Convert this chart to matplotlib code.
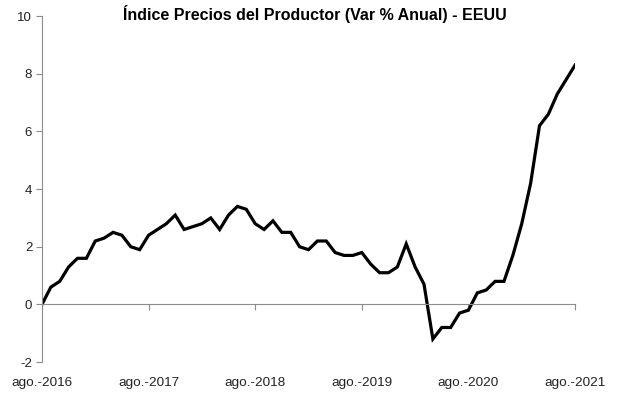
#!/usr/bin/env python3
import numpy as np
import matplotlib.pyplot as plt

plt.rcParams["font.family"] = ["Liberation Sans", "DejaVu Sans"]
plt.rcParams["axes.unicode_minus"] = False

# PPI annual % change, monthly from ago-2016 to ago-2021
ppi = [
    0.0, 0.6, 0.8, 1.3, 1.6, 1.6, 2.2, 2.3, 2.5, 2.4, 2.0, 1.9,
    2.4, 2.6, 2.8, 3.1, 2.6, 2.7, 2.8, 3.0, 2.6, 3.1, 3.4, 3.3,
    2.8, 2.6, 2.9, 2.5, 2.5, 2.0, 1.9, 2.2, 2.2, 1.8, 1.7, 1.7,
    1.8, 1.4, 1.1, 1.1, 1.3, 2.1, 1.3, 0.7, -1.2, -0.8, -0.8, -0.3,
    -0.2, 0.4, 0.5, 0.8, 0.8, 1.7, 2.8, 4.2, 6.2, 6.6, 7.3, 7.8,
    8.3,
]
year_labels = ["ago.-2016", "ago.-2017", "ago.-2018", "ago.-2019", "ago.-2020", "ago.-2021"]
y_ticks = [-2, 0, 2, 4, 6, 8, 10]

grey = "#8c8c8c"

fig = plt.figure(figsize=(6.17, 3.94), dpi=100)
ax = fig.add_axes([0.068, 0.081, 0.864, 0.878])

months = np.arange(len(ppi))
ax.plot(months, ppi, color="black", linewidth=2.3, solid_joinstyle="miter")

ax.set_xlim(0, len(ppi) - 1)
ax.set_ylim(-2, 10)
ax.set_yticks(y_ticks)

# horizontal axis crosses at zero, labels sit at the bottom
year_pos = months[::12]
ax.spines["bottom"].set_position(("data", 0))
ax.spines["bottom"].set_color(grey)
ax.spines["left"].set_color(grey)
ax.spines["top"].set_visible(False)
ax.spines["right"].set_visible(False)
ax.set_xticks(year_pos)
ax.tick_params(axis="x", direction="out", length=4, color=grey, labelbottom=False)
ax.tick_params(axis="y", direction="out", length=4, color=grey, labelsize=9.5,
               labelcolor="#222222", pad=3)

sec = ax.secondary_xaxis("bottom")
sec.set_xticks(year_pos)
sec.set_xticklabels(year_labels)
sec.tick_params(length=0, labelsize=9.7, labelcolor="#222222", pad=11)
sec.spines["bottom"].set_visible(False)

fig.text(0.51, 0.988, "Índice Precios del Productor (Var % Anual) - EEUU",
         ha="center", va="top", fontsize=11.5, fontweight="bold")

plt.savefig("out.png", dpi=100)
plt.close()
